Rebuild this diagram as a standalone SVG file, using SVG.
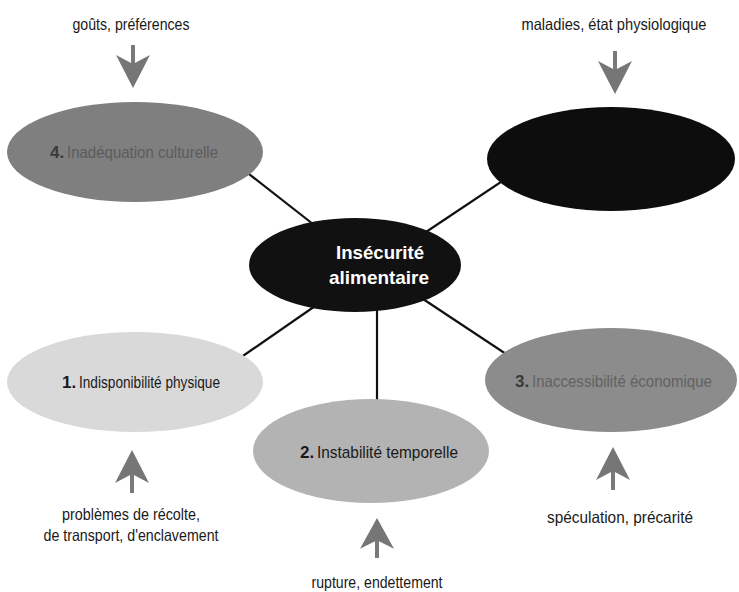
<svg xmlns="http://www.w3.org/2000/svg" width="739" height="592" viewBox="0 0 739 592">
<style>
.lbl{font-family:"Liberation Sans Narrow","Liberation Sans",Arial,sans-serif;font-size:16.5px;fill:#1a1a1a;text-anchor:middle}
.nl{font-family:"Liberation Sans Narrow","Liberation Sans",Arial,sans-serif;font-size:17px}
.num{font-family:"Liberation Sans Narrow","Liberation Sans",Arial,sans-serif;font-size:17px;font-weight:bold}
.ctr{font-family:"Liberation Sans Narrow","Liberation Sans",Arial,sans-serif;font-size:19px;font-weight:bold;fill:#ffffff;text-anchor:middle}
.conn{stroke:#111;stroke-width:2.2;fill:none}
</style>
<defs>
<g id="arrowDown">
<rect x="-2" y="0" width="4" height="20" fill="#7a7a7a"/>
<path d="M-17,10 L0,19 L17,10 L0,43 Z" fill="#767676"/>
</g>
</defs>
<rect width="739" height="592" fill="#ffffff"/>
<g id="connectors">
<line class="conn" x1="240" y1="167" x2="318" y2="228"/>
<line class="conn" x1="510" y1="176" x2="420" y2="236"/>
<line class="conn" x1="240" y1="358" x2="318" y2="304"/>
<line class="conn" x1="420" y1="297" x2="515" y2="360"/>
<line class="conn" x1="377" y1="300" x2="377" y2="410"/>
</g>
<g id="node-4">
<ellipse cx="135" cy="152" rx="128" ry="50" fill="#7f7f7f"/>
<text class="num" x="50" y="158" fill="#3a3a3a">4.</text>
<text class="nl" x="67" y="158" fill="#5c5c5c" textLength="151" lengthAdjust="spacingAndGlyphs">Inadéquation culturelle</text>
</g>
<g id="node-5">
<ellipse cx="611" cy="159" rx="124" ry="52" fill="#0d0d0d"/>
</g>
<g id="node-center">
<ellipse cx="355" cy="265" rx="106" ry="47" fill="#111111"/>
<text class="ctr" x="380" y="259" textLength="88" lengthAdjust="spacingAndGlyphs">Insécurité</text>
<text class="ctr" x="379" y="284" textLength="100" lengthAdjust="spacingAndGlyphs">alimentaire</text>
</g>
<g id="node-1">
<ellipse cx="135" cy="382" rx="128" ry="50" fill="#d9d9d9"/>
<text class="num" x="62" y="388" fill="#1a1a1a">1.</text>
<text class="nl" x="79" y="388" fill="#1a1a1a" textLength="141" lengthAdjust="spacingAndGlyphs">Indisponibilité physique</text>
</g>
<g id="node-2">
<ellipse cx="371" cy="451" rx="118" ry="52" fill="#b3b3b3"/>
<text class="num" x="300" y="458" fill="#1a1a1a">2.</text>
<text class="nl" x="317" y="458" fill="#1a1a1a" textLength="141" lengthAdjust="spacingAndGlyphs">Instabilité temporelle</text>
</g>
<g id="node-3">
<ellipse cx="611" cy="380" rx="126" ry="52" fill="#8c8c8c"/>
<text class="num" x="515" y="387" fill="#3a3a3a">3.</text>
<text class="nl" x="532" y="387" fill="#626262" textLength="180" lengthAdjust="spacingAndGlyphs">Inaccessibilité économique</text>
</g>
<g id="arrows">
<use href="#arrowDown" transform="translate(133,45)"/>
<use href="#arrowDown" transform="translate(615,51)"/>
<use href="#arrowDown" transform="translate(132,493) rotate(180)"/>
<use href="#arrowDown" transform="translate(377,558) rotate(180) scale(1,0.93)"/>
<use href="#arrowDown" transform="translate(613,490) rotate(180)"/>
</g>
<g id="labels">
<text class="lbl" x="131" y="30" textLength="117" lengthAdjust="spacingAndGlyphs">goûts, préférences</text>
<text class="lbl" x="614" y="30" textLength="185" lengthAdjust="spacingAndGlyphs">maladies, état physiologique</text>
<text class="lbl" x="131" y="520" textLength="138" lengthAdjust="spacingAndGlyphs">problèmes de récolte,</text>
<text class="lbl" x="131" y="541" textLength="175" lengthAdjust="spacingAndGlyphs">de transport, d'enclavement</text>
<text class="lbl" x="377" y="588" textLength="131" lengthAdjust="spacingAndGlyphs">rupture, endettement</text>
<text class="lbl" x="620" y="523" textLength="146" lengthAdjust="spacingAndGlyphs">spéculation, précarité</text>
</g>
</svg>
